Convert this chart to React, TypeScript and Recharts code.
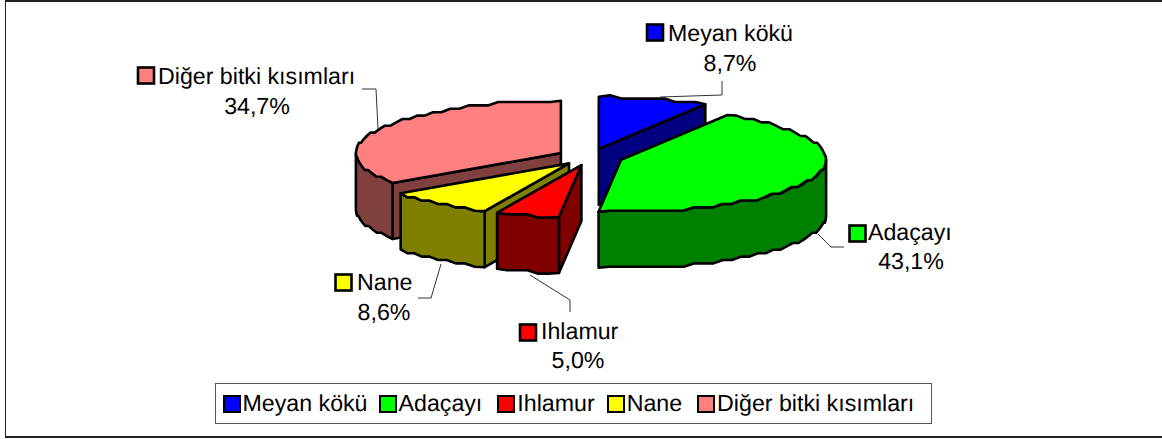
import React from 'react';
import { PieChart, Pie, Legend } from 'recharts';

const categories = ['Meyan kökü', 'Adaçayı', 'Ihlamur', 'Nane', 'Diğer bitki kısımları'];
const shares = [8.7, 43.1, 5.0, 8.6, 34.7];
const shareLabels = ['8,7%', '43,1%', '5,0%', '8,6%', '34,7%'];
const topColors = ['#0000FF', '#00FF00', '#FF0000', '#FFFF00', '#FF8080'];
const wallColors = ['#000080', '#008000', '#800000', '#808000', '#804040'];

// back-to-front painting order of the slices
const drawOrder = [0, 1, 4, 3, 2];

const data = categories.map((name, i) => ({ name, value: shares[i] }));

const WIDTH = 1162;
const HEIGHT = 439;
const CX = 590;
const CY = 157;
const RADIUS = 205;
const SQUASH = 0.255;
const EXPLODE = 32.8;
const DEPTH = 56;
const FONT = '"Liberation Sans", Arial, sans-serif';
const FONT_SIZE = 23.2;
const OUTLINE = 2.6;

// where Excel put each data label: swatch corner, text start, baselines, leader
const labelLayout = [
  { sx: 647, sy: 24.5, tx: 668, ty: 41, px: 730, py: 71, leader: '722,81 722,95 660,97' },
  { sx: 849.5, sy: 225.5, tx: 868, ty: 240, px: 911, py: 269, leader: '844,247 831,247 818,234' },
  { sx: 520, sy: 324.5, tx: 541, ty: 339, px: 578, py: 368, leader: '570,312 570,300 530,275' },
  { sx: 335.5, sy: 274.5, tx: 357, ty: 290, px: 384, py: 320, leader: '418,298 431,298 441,264' },
  { sx: 138, sy: 67.5, tx: 158, ty: 84, px: 257, py: 114, leader: '362,89 376,89 378,129' },
];

// gap before each legend swatch, the text does not fall on an even rhythm
const legendGaps = [0, 11, 15, 12, 15];

const rad = (deg: number) => (deg * Math.PI) / 180;

// The original was a metafile: its curves come out as little stairs
function arcPoints(ox: number, oy: number, from: number, to: number) {
  const pts: [number, number][] = [];
  const steps = Math.max(1, Math.round((to - from) / 3));
  for (let i = 0; i <= steps; i++) {
    const t = rad(from + ((to - from) * i) / steps);
    const x = ox + RADIUS * Math.sin(t);
    const y = oy - RADIUS * SQUASH * Math.cos(t);
    if (i === 0 || i === steps) pts.push([x, y]);
    else pts.push([x, Math.round(y / 3.4) * 3.4]);
  }
  return pts;
}

const toPath = (pts: [number, number][]) =>
  pts.map((p, i) => `${i ? 'L' : 'M'}${p[0].toFixed(1)} ${p[1].toFixed(1)}`).join(' ') + ' Z';

function Slice3D({ cx, cy, startAngle, endAngle, index }: any) {
  // recharts angles are counter-clockwise from 3 o'clock, here clockwise from 12
  const a = 90 - startAngle;
  const b = 90 - endAngle;
  const mid = rad((a + b) / 2);
  const ox = cx + EXPLODE * Math.sin(mid);
  const oy = cy - EXPLODE * SQUASH * Math.cos(mid);
  const arc = arcPoints(ox, oy, a, b);
  const first = arc[0];
  const last = arc[arc.length - 1];
  const down = (p: [number, number]): [number, number] => [p[0], p[1] + DEPTH];
  const apex: [number, number] = [ox, oy];
  const wall = wallColors[index];
  const common = { stroke: '#000', strokeWidth: OUTLINE, strokeLinejoin: 'round' as const };

  const from = Math.max(a, 90);
  const to = Math.min(b, 270);
  const rim = to > from ? arcPoints(ox, oy, from, to) : null;

  return (
    <g>
      {Math.sin(rad(a)) < -1e-6 && (
        <path d={toPath([apex, first, down(first), down(apex)])} fill={wall} {...common} />
      )}
      {Math.sin(rad(b)) > 1e-6 && (
        <path d={toPath([apex, last, down(last), down(apex)])} fill={wall} {...common} />
      )}
      {rim && <path d={toPath([...rim, ...[...rim].reverse().map(down)])} fill={wall} {...common} />}
      <path d={toPath([apex, ...arc])} fill={topColors[index]} {...common} />
    </g>
  );
}

function DataLabel({ index }: any) {
  const l = labelLayout[index];
  return (
    <g fontFamily={FONT} fontSize={FONT_SIZE} fill="#000">
      <polyline points={l.leader} fill="none" stroke="#333" strokeWidth={1} />
      <rect x={l.sx} y={l.sy} width={16} height={16} fill={topColors[index]} stroke="#000" strokeWidth={OUTLINE} />
      <text x={l.tx} y={l.ty}>{categories[index]}</text>
      <text x={l.px} y={l.py} textAnchor="middle">{shareLabels[index]}</text>
    </g>
  );
}

function LegendBox() {
  return (
    <div
      style={{
        boxSizing: 'border-box',
        width: 717,
        height: 41,
        border: '1.5px solid #555',
        background: '#fff',
        display: 'flex',
        alignItems: 'center',
        paddingLeft: 6.5,
        fontFamily: FONT,
        fontSize: FONT_SIZE,
        color: '#000',
        whiteSpace: 'nowrap',
      }}
    >
      {categories.map((name, i) => (
        <span key={name} style={{ display: 'flex', alignItems: 'center', marginLeft: legendGaps[i] }}>
          <span
            style={{
              boxSizing: 'border-box',
              width: 18,
              height: 18,
              marginRight: 2,
              background: topColors[i],
              border: '2.5px solid #000',
            }}
          />
          {name}
        </span>
      ))}
    </div>
  );
}

export default function App() {
  return (
    <div
      style={{
        position: 'absolute',
        left: 0,
        top: 0,
        width: WIDTH,
        height: HEIGHT,
        background: '#fff',
        overflow: 'hidden',
        textRendering: 'geometricPrecision',
      }}
    >
      <div
        style={{
          position: 'absolute',
          left: 5,
          top: 0,
          width: WIDTH - 5,
          height: 438,
          boxSizing: 'border-box',
          borderTop: '2px solid #222',
          borderBottom: '2px solid #222',
          borderLeft: '1.5px solid #222',
        }}
      />
      <PieChart width={WIDTH} height={HEIGHT} margin={{ top: 0, right: 0, bottom: 0, left: 0 }}>
        {drawOrder.map((sliceIndex, pass) => (
          <Pie
            key={sliceIndex}
            data={data}
            dataKey="value"
            nameKey="name"
            cx={CX}
            cy={CY}
            innerRadius={0}
            outerRadius={RADIUS}
            startAngle={90}
            endAngle={-270}
            isAnimationActive={false}
            legendType="none"
            labelLine={false}
            label={pass === drawOrder.length - 1 ? (p: any) => <DataLabel index={p.index} /> : false}
            shape={(p: any) => (p.index === sliceIndex ? <Slice3D {...p} /> : <g />)}
          />
        ))}
        <Legend
          content={() => <LegendBox />}
          wrapperStyle={{ position: 'absolute', left: 215, top: 383, bottom: 'auto', width: 717, height: 41 }}
        />
      </PieChart>
    </div>
  );
}
